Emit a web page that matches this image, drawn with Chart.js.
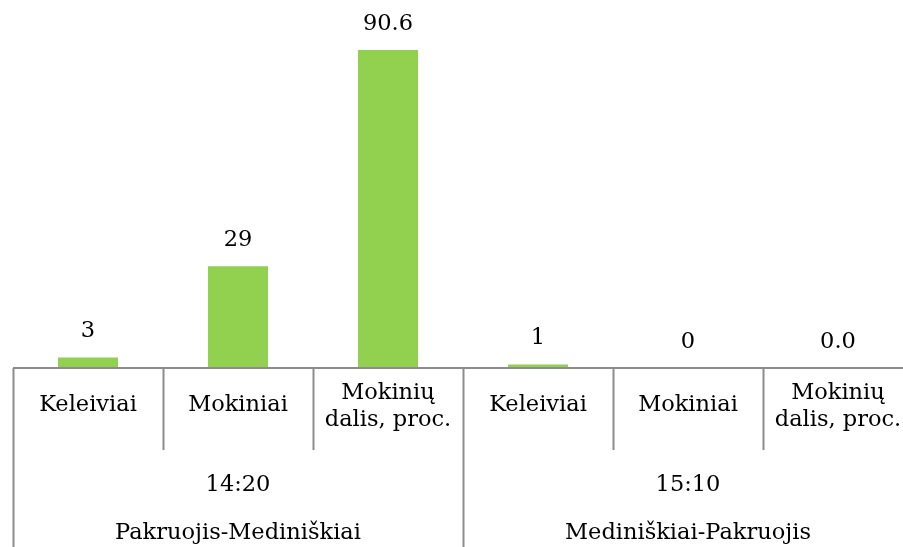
<!DOCTYPE html>
<html>
<head>
<meta charset="utf-8">
<script src="https://cdn.jsdelivr.net/npm/chart.js@4"></script>
<style>
  html, body { margin: 0; padding: 0; background: #fff; overflow: hidden; }
  #wrap { width: 913px; height: 547px; position: relative; }
</style>
</head>
<body>
<div id="wrap"><canvas id="chart"></canvas></div>
<script>
// Duomenys
const categories = ['Keleiviai', 'Mokiniai', ['Mokinių', 'dalis, proc.'], 'Keleiviai', 'Mokiniai', ['Mokinių', 'dalis, proc.']];
const values = [3, 29, 90.6, 1, 0, 0];
const decimals = [0, 0, 1, 0, 0, 1];
const times = ['14:20', '15:10'];
const routes = ['Pakruojis-Mediniškiai', 'Mediniškiai-Pakruojis'];
const groupSize = 3;

const FONT = '22.5px "DejaVu Serif"';
const GRID = '#8c8c8c';

// Reikšmių etiketės virš stulpelių
const valueLabels = {
    id: 'valueLabels',
    afterDatasetsDraw(chart) {
        const ctx = chart.ctx;
        const meta = chart.getDatasetMeta(0);
        ctx.save();
        ctx.font = FONT;
        ctx.fillStyle = '#000';
        ctx.textAlign = 'center';
        ctx.textBaseline = 'middle';
        meta.data.forEach((bar, i) => {
            ctx.fillText(values[i].toFixed(decimals[i]), bar.x, bar.y - 26);
        });
        ctx.restore();
    }
};

// Kelių lygių kategorijų ašis
const multiAxis = {
    id: 'multiAxis',
    afterDraw(chart) {
        const ctx = chart.ctx;
        const x = chart.scales.x;
        const y0 = chart.scales.y.getPixelForValue(0);
        const step = x.width / categories.length;
        const bottom = chart.height;
        ctx.save();
        ctx.strokeStyle = GRID;
        ctx.lineWidth = 2;

        // horizontali ašis
        ctx.beginPath();
        ctx.moveTo(x.left, y0);
        ctx.lineTo(x.right, y0);
        ctx.stroke();

        // vertikalios linijos
        for (let i = 0; i <= categories.length; i++) {
            const px = Math.round(x.getPixelForValue(0) - step / 2 + i * step) + 0.5;
            const isGroupEdge = i % groupSize === 0;
            ctx.beginPath();
            ctx.moveTo(px, y0);
            ctx.lineTo(px, isGroupEdge ? bottom : y0 + 82);
            ctx.stroke();
        }

        ctx.font = FONT;
        ctx.fillStyle = '#000';
        ctx.textAlign = 'center';
        ctx.textBaseline = 'middle';

        // 1 lygis
        categories.forEach((lab, i) => {
            const cx = x.getPixelForValue(i);
            if (Array.isArray(lab)) {
                ctx.fillText(lab[0], cx, y0 + 25);
                ctx.fillText(lab[1], cx, y0 + 52);
            } else {
                ctx.fillText(lab, cx, y0 + 37);
            }
        });

        // 2 ir 3 lygiai
        times.forEach((t, g) => {
            const a = x.getPixelForValue(g * groupSize);
            const b = x.getPixelForValue(g * groupSize + groupSize - 1);
            const cx = (a + b) / 2;
            ctx.fillText(t, cx, y0 + 117);
            ctx.fillText(routes[g], cx, y0 + 165);
        });
        ctx.restore();
    }
};

new Chart(document.getElementById('chart'), {
    type: 'bar',
    data: {
        labels: categories,
        datasets: [{
            data: values,
            backgroundColor: '#92d050',
            borderWidth: 0,
            barPercentage: 0.4,
            categoryPercentage: 1.0
        }]
    },
    options: {
        responsive: true,
        maintainAspectRatio: false,
        animation: false,
        layout: { padding: { left: 13, right: 0, top: 17, bottom: 179 } },
        plugins: {
            legend: { display: false },
            tooltip: { enabled: false }
        },
        scales: {
            x: { display: false },
            y: { display: false, min: 0, max: 100 }
        }
    },
    plugins: [valueLabels, multiAxis]
});
</script>
</body>
</html>
